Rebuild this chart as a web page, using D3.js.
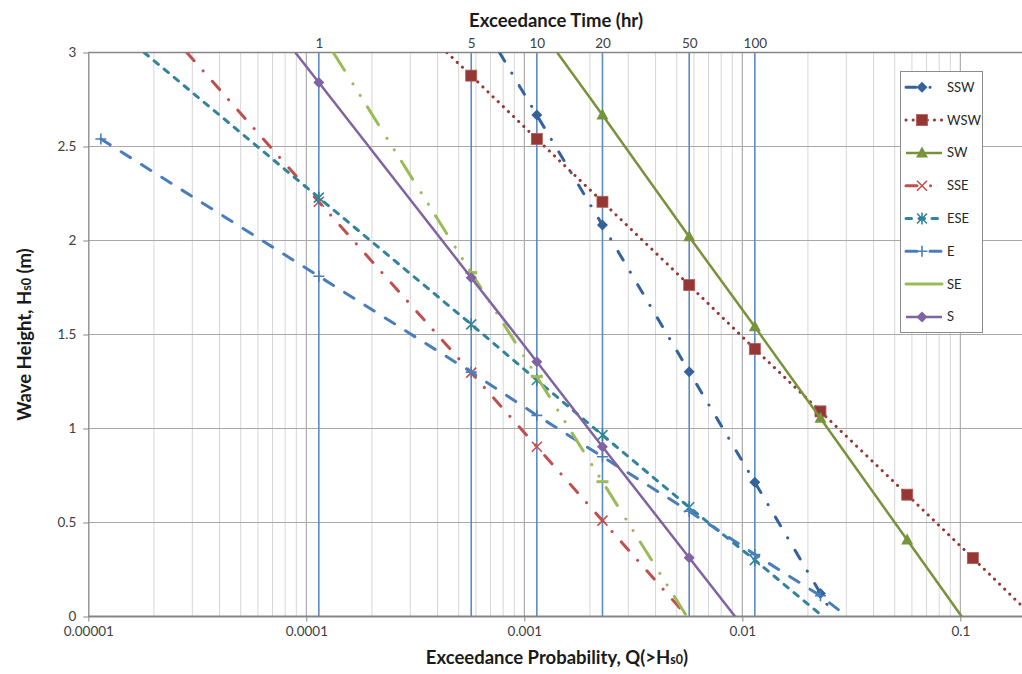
<!DOCTYPE html>
<html>
<head>
<meta charset="utf-8">
<script src="https://cdn.jsdelivr.net/npm/d3@7"></script>
<style>
  body { margin: 0; background: #fff; }
  svg text { font-family: Lato, "Open Sans", "DejaVu Sans", sans-serif; }
</style>
</head>
<body>
<svg id="chart" width="1022" height="674"></svg>
<script>
// ---- data -------------------------------------------------------------
// Curves are given as exceedance time in hours per year (converted to a
// probability with HOURS_PER_YEAR) and wave height H in metres.
// The first / last vertices of a curve are where it leaves the plot frame.
const HOURS_PER_YEAR = 8760;
const markerHours = [0.1, 1, 5, 10, 20, 50, 100, 200, 500, 1000];

const sswHours = [6.74, 10, 20, 50, 100, 200, 231];
const sswH     = [3, 2.667, 2.082, 1.302, 0.714, 0.123, 0];

const wswHours = [3.87, 5, 10, 20, 50, 100, 200, 500, 1000, 1700];
const wswH     = [3, 2.877, 2.540, 2.206, 1.763, 1.423, 1.091, 0.648, 0.311, 0.05];

const swHours  = [12.4, 20, 50, 100, 200, 500, 889];
const swH      = [3, 2.667, 2.020, 1.541, 1.054, 0.407, 0];

const sseHours = [0.248, 1, 5, 10, 20, 49];
const sseH     = [3, 2.206, 1.297, 0.903, 0.510, 0];

const eseHours = [0.158, 1, 5, 10, 20, 50, 100, 205];
const eseH     = [3, 2.228, 1.554, 1.258, 0.965, 0.581, 0.300, 0];

const eHours   = [0.1, 1, 5, 10, 20, 50, 100, 200, 265];
const eH       = [2.54, 1.81, 1.30, 1.07, 0.85, 0.56, 0.33, 0.11, 0];

const seHours  = [1.165, 5, 10, 20, 48.8];
const seH      = [3, 1.829, 1.276, 0.717, 0];

const sHours   = [0.78, 1, 5, 10, 20, 50, 81.2];
const sH       = [3, 2.840, 1.802, 1.355, 0.903, 0.313, 0];

const seriesNames = ["SSW", "WSW", "SW", "SSE", "ESE", "E", "SE", "S"];

// axis ticks
const yTicks = [0, 0.5, 1, 1.5, 2, 2.5, 3];
const probTicks = [1e-5, 1e-4, 1e-3, 1e-2, 1e-1];
const probTickLabels = ["0.00001", "0.0001", "0.001", "0.01", "0.1"];
const hourTicks = [1, 5, 10, 20, 50, 100];

// ---- styles -----------------------------------------------------------
const styles = {
  SSW: { color: "#34629c", dash: "10,14,0.1,14.5", width: 3, marker: "diamond" },
  WSW: { color: "#953735", dash: "0.1,7", width: 3, marker: "square" },
  SW:  { color: "#77933c", dash: null, width: 2.5, marker: "triangle" },
  SSE: { color: "#c0504d", dash: "11,13.5,0.1,13.9", width: 3, marker: "x" },
  ESE: { color: "#31849b", dash: "5.5,7.5", width: 3, marker: "star" },
  E:   { color: "#4a7ebb", dash: "11,13", width: 3, marker: "plus" },
  SE:  { color: "#9bbb59", dash: "21,16,0.1,13.5,0.1,13.5", width: 3, marker: "dash" },
  S:   { color: "#8064a2", dash: null, width: 2.5, marker: "diamond" }
};

const series = [
  [sswHours, sswH], [wswHours, wswH], [swHours, swH], [sseHours, sseH],
  [eseHours, eseH], [eHours, eH], [seHours, seH], [sHours, sH]
].map(([hrs, hs], i) => ({
  name: seriesNames[i],
  points: hrs.map((h, j) => ({ hours: h, p: h / HOURS_PER_YEAR, H: hs[j] }))
}));

// ---- layout -----------------------------------------------------------
const svg = d3.select("#chart");
const plotL = 88.3, plotT = 52.5, plotB = 616.5, plotR = 1022;

const x = d3.scaleLog().domain([1e-5, 1]).range([plotL, plotL + 5 * 218]);
const xHours = d3.scaleLog()
  .domain([1e-5 * HOURS_PER_YEAR, HOURS_PER_YEAR])
  .range(x.range());
const y = d3.scaleLinear().domain([0, 3]).range([plotB, plotT]);

svg.append("defs").append("clipPath").attr("id", "plot-clip")
  .append("rect").attr("x", plotL).attr("y", plotT)
  .attr("width", plotR - plotL).attr("height", plotB - plotT);

// ---- gridlines ---------------------------------------------------------
const grid = svg.append("g");
const isDecade = v => Math.abs(Math.log10(v) - Math.round(Math.log10(v))) < 1e-9;
const vLines = x.ticks().filter(v => x(v) > plotL + 1 && x(v) <= plotR);
grid.selectAll("line.v").data(vLines).join("line")
  .attr("x1", d => x(d)).attr("x2", d => x(d))
  .attr("y1", plotT).attr("y2", plotB)
  .attr("stroke", d => isDecade(d) ? "#9c9c9c" : "#d6d6d6")
  .attr("stroke-width", 1);

grid.selectAll("line.h").data(yTicks.filter(v => v > 0)).join("line")
  .attr("x1", plotL).attr("x2", plotR)
  .attr("y1", d => y(d)).attr("y2", d => y(d))
  .attr("stroke", "#a8a8a8").attr("stroke-width", 1);

// exceedance-time reference lines
grid.selectAll("line.hr").data(hourTicks).join("line")
  .attr("x1", d => xHours(d)).attr("x2", d => xHours(d))
  .attr("y1", plotT).attr("y2", plotB)
  .attr("stroke", "#5b8bc9").attr("stroke-width", 1.6);

// ---- axes --------------------------------------------------------------
const axisColor = "#868686";
const tickFont = 13.5;

const yAxis = svg.append("g").attr("transform", `translate(${plotL},0)`)
  .call(d3.axisLeft(y).tickValues(yTicks).tickFormat(d3.format("")).tickSize(5).tickSizeOuter(0).tickPadding(7));
const xAxis = svg.append("g").attr("transform", `translate(0,${plotB})`)
  .call(d3.axisBottom(x).tickValues(probTicks).tickFormat((d, i) => probTickLabels[i]).tickSize(5).tickSizeOuter(0).tickPadding(5));
const tAxis = svg.append("g").attr("transform", `translate(0,${plotT})`)
  .call(d3.axisTop(xHours).tickValues(hourTicks).tickFormat(d3.format("")).tickSize(0).tickSizeOuter(0).tickPadding(5));

[yAxis, xAxis, tAxis].forEach(g => {
  g.selectAll("path.domain").attr("stroke", axisColor).attr("stroke-width", 1.3);
  g.selectAll(".tick line").attr("stroke", axisColor);
  g.selectAll("text").attr("font-size", tickFont).attr("fill", "#404040")
    .style("font-family", "Lato, 'Open Sans', sans-serif");
});
tAxis.select("path.domain").attr("d", `M${plotL},0H${plotR}`);
xAxis.select("path.domain").attr("d", `M${plotL},0H${plotR}`).attr("stroke-width", 1.8);

// ---- curves ------------------------------------------------------------
const line = d3.line().x(d => x(d.p)).y(d => y(d.H));
const plot = svg.append("g").attr("clip-path", "url(#plot-clip)");

function drawMarker(g, type, color, cx, cy) {
  const s = 5.5;
  if (type === "diamond") {
    g.append("path").attr("d", `M${cx},${cy - s}L${cx + s},${cy}L${cx},${cy + s}L${cx - s},${cy}Z`).attr("fill", color);
  } else if (type === "square") {
    g.append("rect").attr("x", cx - s).attr("y", cy - s).attr("width", 2 * s).attr("height", 2 * s)
      .attr("fill", color).attr("stroke", "#b35a57").attr("stroke-width", 0.8);
  } else if (type === "triangle") {
    g.append("path").attr("d", `M${cx},${cy - s - 1}L${cx + s + 0.5},${cy + s - 1}L${cx - s - 0.5},${cy + s - 1}Z`).attr("fill", color);
  } else if (type === "x") {
    const r = 5;
    g.append("path").attr("d", `M${cx - r},${cy - r}L${cx + r},${cy + r}M${cx + r},${cy - r}L${cx - r},${cy + r}`)
      .attr("stroke", color).attr("stroke-width", 1.6).attr("fill", "none");
  } else if (type === "star") {
    const r = 5;
    g.append("path").attr("d", `M${cx - r},${cy - r}L${cx + r},${cy + r}M${cx + r},${cy - r}L${cx - r},${cy + r}M${cx},${cy - r - 1}L${cx},${cy + r + 1}`)
      .attr("stroke", color).attr("stroke-width", 1.6).attr("fill", "none");
  } else if (type === "plus") {
    const r = 5.5;
    g.append("path").attr("d", `M${cx - r},${cy}L${cx + r},${cy}M${cx},${cy - r}L${cx},${cy + r}`)
      .attr("stroke", color).attr("stroke-width", 1.6).attr("fill", "none");
  } else if (type === "dash") {
    g.append("path").attr("d", `M${cx - 6},${cy}L${cx + 6},${cy}`)
      .attr("stroke", color).attr("stroke-width", 3).attr("fill", "none");
  }
}

series.forEach(s => {
  const st = styles[s.name];
  const g = plot.append("g");
  g.append("path").datum(s.points).attr("d", line)
    .attr("fill", "none").attr("stroke", st.color).attr("stroke-width", st.width)
    .attr("stroke-linecap", st.dash ? "round" : "butt")
    .attr("stroke-linejoin", "round")
    .attr("stroke-dasharray", st.dash);
  s.points.filter(d => markerHours.includes(d.hours))
    .forEach(d => drawMarker(g, st.marker, st.color, x(d.p), y(d.H)));
});

// ---- legend ------------------------------------------------------------
const legend = svg.append("g");
legend.append("rect").attr("x", 900.5).attr("y", 71.5).attr("width", 82).attr("height", 261)
  .attr("fill", "#fff").attr("stroke", "#8c8c8c").attr("stroke-width", 1);
seriesNames.forEach((name, i) => {
  const st = styles[name];
  const cy = 87.3 + i * 32.8;
  const g = legend.append("g");
  g.append("line").attr("x1", 906).attr("x2", 942).attr("y1", cy).attr("y2", cy)
    .attr("stroke", st.color).attr("stroke-width", st.width)
    .attr("stroke-linecap", st.dash ? "round" : "butt")
    .attr("stroke-dasharray", name === "SE" ? null : st.dash);
  if (name !== "SE") drawMarker(g, st.marker, st.color, 922, cy);
  g.append("text").attr("x", 947).attr("y", cy).attr("dy", "0.35em")
    .attr("font-size", 13).attr("fill", "#262626").text(name);
});

// ---- titles ------------------------------------------------------------
const titleSize = 18.5, subSize = 12.5;

svg.append("text").attr("x", 556).attr("y", 26.5).attr("text-anchor", "middle")
  .attr("font-size", titleSize).attr("font-weight", "bold").attr("fill", "#1a1a1a")
  .text("Exceedance Time (hr)");

const xt = svg.append("text").attr("x", 557).attr("y", 664).attr("text-anchor", "middle")
  .attr("font-size", titleSize).attr("font-weight", "bold").attr("fill", "#1a1a1a");
xt.append("tspan").text("Exceedance Probability, Q(>H");
xt.append("tspan").attr("font-size", subSize).text("s0");
xt.append("tspan").text(")");

const yt = svg.append("text").attr("transform", `translate(31,${(plotT + plotB) / 2}) rotate(-90)`)
  .attr("text-anchor", "middle")
  .attr("font-size", titleSize).attr("font-weight", "bold").attr("fill", "#1a1a1a");
yt.append("tspan").text("Wave Height, H");
yt.append("tspan").attr("font-size", subSize).text("s0");
yt.append("tspan").text(" (m)");
</script>
</body>
</html>
